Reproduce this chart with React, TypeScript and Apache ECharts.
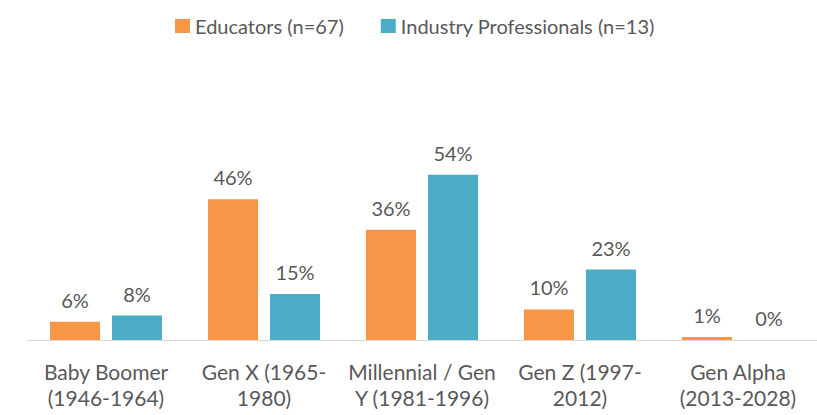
import React, { useEffect, useRef } from "react";
import * as echarts from "echarts";

const categories = [
  "Baby Boomer\n(1946-1964)",
  "Gen X (1965-\n1980)",
  "Millennial / Gen\nY (1981-1996)",
  "Gen Z (1997-\n2012)",
  "Gen Alpha\n(2013-2028)",
];
const educators = [6, 46, 36, 10, 1];
const industry = [8, 15, 54, 23, 0];
const seriesNames = ["Educators (n=67)", "Industry Professionals (n=13)"];

const FONT = "Lato, 'Open Sans', sans-serif";
const TEXT = "#595959";

export default function App() {
  const ref = useRef<HTMLDivElement>(null);
  useEffect(() => {
    document.body.style.margin = "0";
    const chart = echarts.init(ref.current!, null, { renderer: "svg" });
    const label = {
      show: true,
      position: "top" as const,
      distance: 12,
      formatter: "{c}%",
      fontFamily: FONT,
      fontSize: 20,
      color: TEXT,
    };
    chart.setOption({
      animation: false,
      textStyle: { fontFamily: FONT },
      legend: {
        top: 11,
        left: 170,
        itemWidth: 15,
        itemHeight: 14,
        itemGap: 37,
        icon: "rect",
        textStyle: { fontFamily: FONT, fontSize: 20, color: TEXT },
        data: seriesNames,
      },
      grid: { left: 27, right: -4, top: 156.4, bottom: 75, containLabel: false },
      xAxis: {
        type: "category",
        data: categories,
        axisTick: { show: false },
        axisLine: { lineStyle: { color: "#D9D9D9", width: 1 } },
        axisLabel: {
          interval: 0,
          margin: 18,
          lineHeight: 26,
          fontFamily: FONT,
          fontSize: 21,
          color: TEXT,
        },
      },
      yAxis: {
        type: "value",
        min: 0,
        max: 60,
        show: false,
        splitLine: { show: false },
      },
      series: [
        {
          name: seriesNames[0],
          type: "bar",
          data: educators,
          barWidth: 50,
          barGap: "24%",
          itemStyle: { color: "#F79646" },
          label,
        },
        {
          name: seriesNames[1],
          type: "bar",
          data: industry,
          barWidth: 50,
          itemStyle: { color: "#4BACC6" },
          label,
        },
      ],
    });
    return () => chart.dispose();
  }, []);
  return <div ref={ref} style={{ width: 817, height: 415 }} />;
}
